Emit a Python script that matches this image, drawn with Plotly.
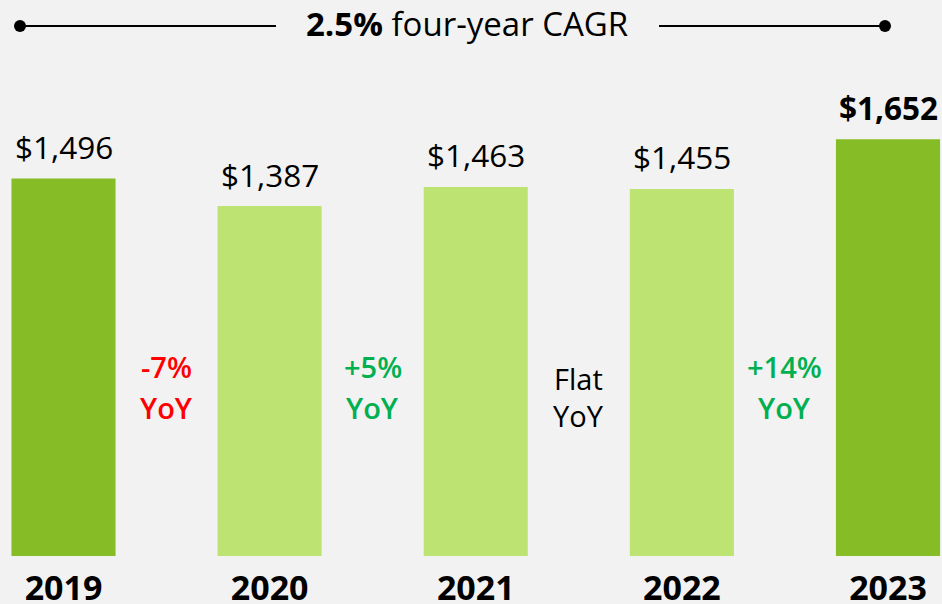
import plotly.graph_objects as go

years = ["2019", "2020", "2021", "2022", "2023"]
revenue = [1496, 1387, 1463, 1455, 1652]
value_labels = ["$1,496", "$1,387", "$1,463", "$1,455", "<b>$1,652</b>"]
bar_colors = ["#86BC25", "#BDE472", "#BDE472", "#BDE472", "#86BC25"]
yoy_top = ["-7%", "+5%", "Flat", "+14%"]
yoy_bottom = ["YoY", "YoY", "YoY", "YoY"]
yoy_colors = ["#FF0000", "#00B050", "#000000", "#00B050"]
yoy_weights = [600, 600, 500, 600]
title_bold = "2.5%"
title_rest = " four-year CAGR"

W, H = 942, 604
BOT = 48
PH = H - BOT
SCALE = 0.2523  # px per unit
YMAX = PH / SCALE
FONT = "Open Sans"
BG = "#F2F2F2"

xpos = list(range(len(years)))

fig = go.Figure()
fig.add_trace(go.Bar(
    x=xpos, y=revenue, width=0.505,
    marker=dict(color=bar_colors, line=dict(width=0)),
    hoverinfo="skip",
))

ann = []
for i, (v, lab) in enumerate(zip(revenue, value_labels)):
    ann.append(dict(x=xpos[i], y=v, xref="x", yref="y", text=lab, showarrow=False,
                    yanchor="middle", yshift=32,
                    font=dict(family=FONT, size=31.5, color="#000000")))

def py2paper(py):
    return 1 - py / PH

for i, (t1, t2, c, w) in enumerate(zip(yoy_top, yoy_bottom, yoy_colors, yoy_weights)):
    xm = (xpos[i] + xpos[i + 1]) / 2
    flat = (t1 == "Flat")
    y1 = 378 if flat else 366
    y2 = 415 if flat else 407
    ann.append(dict(x=xm, y=py2paper(y1), xref="x", yref="paper", text=t1, showarrow=False,
                    yanchor="middle", font=dict(family=FONT, size=29, color=c, weight=w)))
    ann.append(dict(x=xm, y=py2paper(y2), xref="x", yref="paper", text=t2, showarrow=False,
                    yanchor="middle", font=dict(family=FONT, size=29, color=c, weight=w)))

ann.append(dict(x=467 / W, y=py2paper(24), xref="paper", yref="paper",
                text="<b>" + title_bold + "</b>" + title_rest, showarrow=False,
                yanchor="middle", xanchor="center",
                font=dict(family=FONT, size=33, color="#000000")))

shapes = []
ly = py2paper(26)
for (a, b) in [(20, 276), (659, 885)]:
    shapes.append(dict(type="line", xref="paper", yref="paper", x0=a / W, x1=b / W, y0=ly, y1=ly,
                       line=dict(color="#000000", width=2)))
r = 6
for cx in [20, 885]:
    shapes.append(dict(type="circle", xref="paper", yref="paper",
                       x0=(cx - r) / W, x1=(cx + r) / W, y0=py2paper(26 + r), y1=py2paper(26 - r),
                       fillcolor="#000000", line=dict(width=0)))

x0px, x1px = 63.5, 888.0
step = (x1px - x0px) / 4
fig.update_layout(
    width=W, height=H,
    margin=dict(l=0, r=0, t=0, b=BOT, autoexpand=False),
    paper_bgcolor=BG, plot_bgcolor=BG,
    showlegend=False,
    annotations=ann, shapes=shapes,
    xaxis=dict(range=[-x0px / step, 4 + (W - x1px) / step],
               tickvals=xpos, ticktext=["<b>%s</b>" % y for y in years],
               tickfont=dict(family=FONT, size=34, color="#000000"),
               ticks="outside", ticklen=2, tickcolor="rgba(0,0,0,0)",
               automargin=False,
               showgrid=False, zeroline=False, showline=False, fixedrange=True),
    yaxis=dict(range=[0, YMAX], visible=False, automargin=False,
               showgrid=False, zeroline=False, fixedrange=True),
)

fig.write_html("out.html", config=dict(displayModeBar=False),
               post_script="document.body.style.margin='0';document.body.style.padding='0';")
